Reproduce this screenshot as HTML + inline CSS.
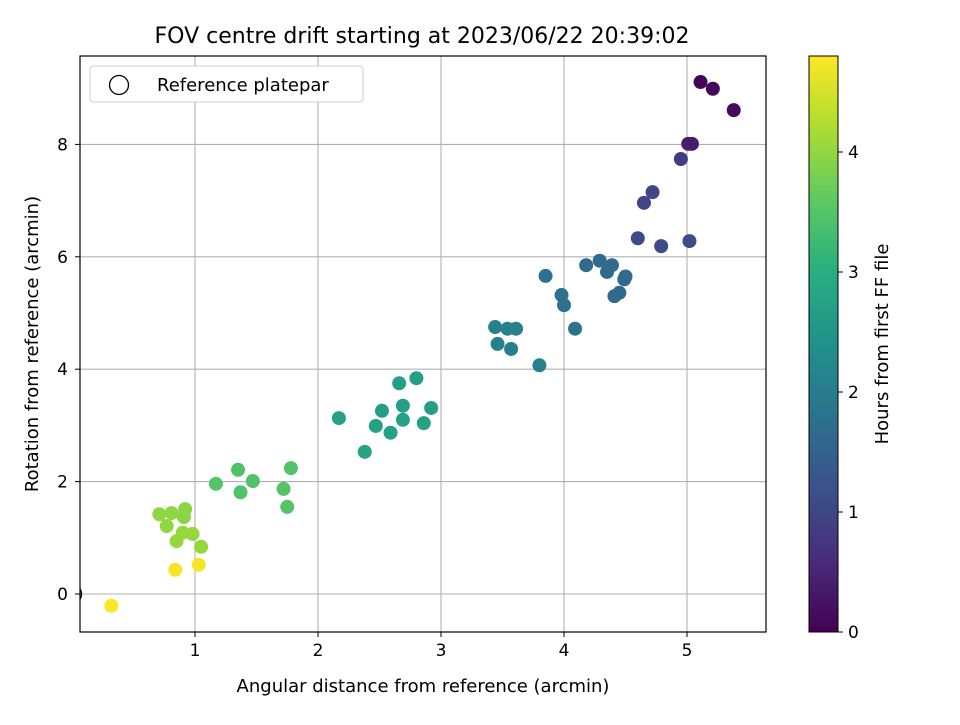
<!DOCTYPE html>
<html><head><meta charset="utf-8"><style>
body{margin:0;background:#fff;}
svg{font-family:"DejaVu Sans","Liberation Sans",sans-serif;}
</style></head><body>
<svg width="960" height="720" viewBox="0 0 960 720">
<defs>
<linearGradient id="vir" x1="0" y1="1" x2="0" y2="0">
<stop offset="0" stop-color="#440154"/><stop offset="0.125" stop-color="#472d7b"/>
<stop offset="0.25" stop-color="#3b528b"/><stop offset="0.375" stop-color="#2c728e"/>
<stop offset="0.5" stop-color="#21918c"/><stop offset="0.625" stop-color="#28ae80"/>
<stop offset="0.75" stop-color="#5ec962"/><stop offset="0.875" stop-color="#addc30"/>
<stop offset="1" stop-color="#fde725"/></linearGradient>
<clipPath id="plotclip"><rect x="80" y="56" width="686" height="576"/></clipPath>
</defs>
<text x="422" y="43" text-anchor="middle" font-size="22">FOV centre drift starting at 2023/06/22 20:39:02</text>
<g id="grid"></g>
<g id="pts" clip-path="url(#plotclip)"></g>
<rect x="80" y="56" width="686" height="576" fill="none" stroke="#000" stroke-width="1.2"/>
<g id="ticks"></g>
<text x="423" y="692" text-anchor="middle" font-size="18">Angular distance from reference (arcmin)</text>
<text transform="translate(38,344) rotate(-90)" text-anchor="middle" font-size="18">Rotation from reference (arcmin)</text>
<g>
<rect x="90" y="66" width="273" height="36" rx="3" fill="#fff" stroke="#ccc"/>
<circle cx="119" cy="85" r="9.5" fill="none" stroke="#000" stroke-width="1.3"/>
<text x="157" y="91" font-size="18">Reference platepar</text>
</g>
<rect x="809" y="56" width="29" height="576" fill="url(#vir)" stroke="#000" stroke-width="1"/>
<g id="cbticks"></g>
<text transform="translate(888,344) rotate(-90)" text-anchor="middle" font-size="18">Hours from first FF file</text>
</svg>
<script>
const xs=[5.11,5.21,5.38,5.01,5.04,4.95,4.72,4.65,4.60,4.79,5.02,4.18,4.29,4.35,4.39,4.50,4.49,4.41,4.45,3.85,3.98,4.0,4.09,3.44,3.54,3.61,3.46,3.57,3.80,2.80,2.66,2.92,2.69,2.52,2.17,2.47,2.69,2.86,2.59,2.38,1.78,1.35,1.47,1.17,1.37,1.72,1.75,0.92,0.71,0.81,0.91,0.77,0.90,0.98,0.85,1.05,0.84,1.03,0.32];
const ys=[9.11,8.99,8.61,8.01,8.01,7.74,7.15,6.96,6.33,6.19,6.28,5.85,5.93,5.73,5.85,5.65,5.60,5.30,5.36,5.66,5.32,5.14,4.72,4.75,4.72,4.72,4.45,4.36,4.07,3.84,3.75,3.31,3.35,3.26,3.13,2.99,3.10,3.04,2.87,2.53,2.24,2.21,2.01,1.96,1.81,1.87,1.55,1.51,1.42,1.44,1.37,1.21,1.09,1.07,0.94,0.84,0.43,0.52,-0.21];
const hours=[0.05,0.1,0.15,0.4,0.4,0.85,1.0,1.0,1.1,1.1,1.1,1.65,1.65,1.65,1.65,1.65,1.65,1.65,1.65,1.8,1.8,1.8,1.8,2.1,2.1,2.1,2.1,2.1,2.1,2.7,2.7,2.7,2.7,2.7,2.75,2.75,2.75,2.75,2.75,2.8,3.45,3.45,3.45,3.5,3.45,3.5,3.5,3.95,4.0,4.0,3.95,4.0,4.05,4.05,4.05,4.05,4.75,4.75,4.8];
const xTicks=[1,2,3,4,5];
const yTicks=[0,2,4,6,8];
const cbTicks=[0,1,2,3,4];
const X=v=>72+123*v, Y=v=>594-56.2*v, CB=v=>632-120*v;
const ns='http://www.w3.org/2000/svg';
const vir=[[68,1,84],[71,45,123],[59,82,139],[44,114,142],[33,145,140],[40,174,128],[94,201,98],[173,220,48],[253,231,37]];
function col(h){let t=Math.max(0,Math.min(1,h/4.82))*8;let i=Math.min(7,Math.floor(t)),f=t-i;const a=vir[i],b=vir[i+1];return 'rgb('+a.map((c,k)=>Math.round(c+(b[k]-c)*f)).join(',')+')';}
function mk(tag,at,parent){const e=document.createElementNS(ns,tag);for(const k in at)e.setAttribute(k,at[k]);parent.appendChild(e);return e;}
const grid=document.getElementById('grid'),ticks=document.getElementById('ticks'),pts=document.getElementById('pts'),cbt=document.getElementById('cbticks');
xTicks.forEach(v=>{
 const g=mk('line',{x1:X(v),x2:X(v),y1:56,y2:632,stroke:'#b0b0b0','stroke-width':1.1},grid);
 
 
 const t=mk('line',{x1:X(v),x2:X(v),y1:632,y2:637,stroke:'#000'},ticks);
 
 
 const l=mk('text',{x:X(v),y:656,'text-anchor':'middle','font-size':17},ticks);l.textContent=v;
 
 
});
yTicks.forEach(v=>{
 const g=mk('line',{x1:80,x2:766,y1:Y(v),y2:Y(v),stroke:'#b0b0b0','stroke-width':1.1},grid);
 
 
 const t=mk('line',{x1:75,x2:80,y1:Y(v),y2:Y(v),stroke:'#000'},ticks);
 
 
 const l=mk('text',{x:68,y:Y(v)+6,'text-anchor':'end','font-size':17},ticks);l.textContent=v;
 
 
});
cbTicks.forEach(v=>{
 const t=mk('line',{x1:838,x2:843,y1:CB(v),y2:CB(v),stroke:'#000'},cbt);
 
 
 const l=mk('text',{x:848,y:CB(v)+6,'font-size':17},cbt);l.textContent=v;
 
 
});
const ref=mk('circle',{cx:X(0),cy:Y(0),r:9.5,fill:'none',stroke:'#000','stroke-width':1.3},pts);


xs.forEach((x,i)=>{
 const c=mk('circle',{cx:X(x),cy:Y(ys[i]),r:7,fill:col(hours[i])},pts);
 
 
});
</script>
</body></html>
